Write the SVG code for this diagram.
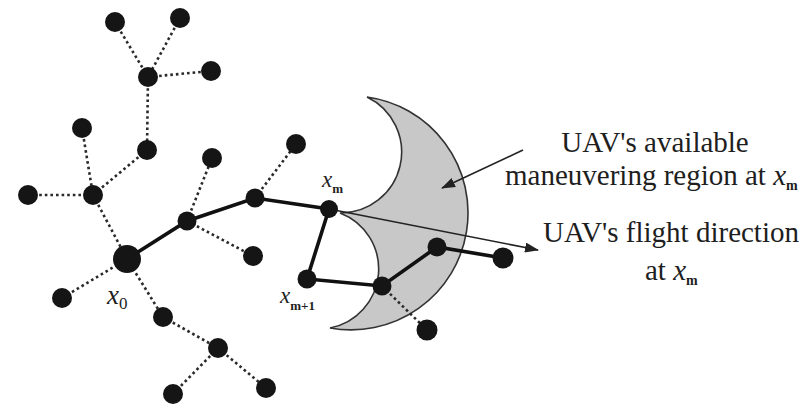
<svg xmlns="http://www.w3.org/2000/svg" width="811" height="409" viewBox="0 0 811 409">
<style>
.dot{stroke:#2a2a2a;stroke-width:2.6;stroke-dasharray:2.6 3;fill:none}
.path{stroke:#111;stroke-width:3.6;fill:none;stroke-linecap:round}
.thin{stroke:#222;stroke-width:1.6;fill:none}
.n{fill:#151515}
text{fill:#1e1e1e}
.it{font-style:italic}
</style>
<defs>
<marker id="ah" markerWidth="14" markerHeight="10" refX="13" refY="5" orient="auto" markerUnits="userSpaceOnUse">
<path d="M0,0 L14,5 L0,10 Z" fill="#222"/>
</marker>
</defs>
<g id="region">
<path d="M367,97 A117,117 0 1 1 330,328 A60,60 0 0 0 340,213 A61,61 0 0 0 367,97 Z" fill="#c8c8c8" stroke="#333" stroke-width="1.6"/>
</g>
<g id="connectors">
<line class="dot" x1="115" y1="22" x2="148" y2="77"/>
<line class="dot" x1="180" y1="18" x2="148" y2="77"/>
<line class="dot" x1="148" y1="77" x2="211" y2="71"/>
<line class="dot" x1="148" y1="77" x2="147" y2="150"/>
<line class="dot" x1="147" y1="150" x2="93" y2="195"/>
<line class="dot" x1="82" y1="128" x2="93" y2="195"/>
<line class="dot" x1="28" y1="195" x2="93" y2="195"/>
<line class="dot" x1="93" y1="195" x2="127" y2="259"/>
<line class="dot" x1="127" y1="259" x2="62" y2="298"/>
<line class="dot" x1="127" y1="259" x2="163" y2="317"/>
<line class="dot" x1="163" y1="317" x2="218" y2="348"/>
<line class="dot" x1="218" y1="348" x2="173" y2="394"/>
<line class="dot" x1="218" y1="348" x2="266" y2="388"/>
<line class="dot" x1="187" y1="221" x2="212" y2="158"/>
<line class="dot" x1="187" y1="221" x2="253" y2="256"/>
<line class="dot" x1="255" y1="198" x2="296" y2="144"/>
<line class="dot" x1="382" y1="286" x2="427" y2="330"/>
<polyline class="path" points="127,259 187,221 255,198 329,209 307,279 382,286 437,247 503,258"/>
<line class="thin" x1="329" y1="209" x2="538" y2="250" marker-end="url(#ah)"/>
<line class="thin" x1="523" y1="150" x2="442" y2="188" marker-end="url(#ah)"/>
</g>
<g id="nodes">
<circle id="n1" class="n" cx="115" cy="22" r="10"/>
<circle id="n2" class="n" cx="180" cy="18" r="10"/>
<circle id="n3" class="n" cx="148" cy="77" r="10"/>
<circle id="n4" class="n" cx="211" cy="71" r="10"/>
<circle id="n5" class="n" cx="82" cy="128" r="10"/>
<circle id="n6" class="n" cx="147" cy="150" r="10"/>
<circle id="n7" class="n" cx="28" cy="195" r="10"/>
<circle id="n8" class="n" cx="93" cy="195" r="10"/>
<circle id="n9" class="n" cx="212" cy="158" r="10"/>
<circle id="n10" class="n" cx="296" cy="144" r="10"/>
<circle id="x0" class="n" cx="127" cy="259" r="14"/>
<circle id="n12" class="n" cx="187" cy="221" r="9.5"/>
<circle id="n13" class="n" cx="255" cy="198" r="9.5"/>
<circle id="xm" class="n" cx="329" cy="209" r="9"/>
<circle id="n15" class="n" cx="253" cy="256" r="10"/>
<circle id="n16" class="n" cx="62" cy="298" r="10"/>
<circle id="n17" class="n" cx="163" cy="317" r="10"/>
<circle id="n18" class="n" cx="218" cy="348" r="10"/>
<circle id="n19" class="n" cx="173" cy="394" r="10"/>
<circle id="n20" class="n" cx="266" cy="388" r="10"/>
<circle id="xm1" class="n" cx="307" cy="279" r="9.5"/>
<circle id="n22" class="n" cx="382" cy="286" r="9.5"/>
<circle id="n23" class="n" cx="437" cy="247" r="9.5"/>
<circle id="n24" class="n" cx="503" cy="258" r="10.5"/>
<circle id="n25" class="n" cx="427" cy="330" r="10.5"/>
</g>
<g id="labels" font-family="'Liberation Serif', 'Times New Roman', serif">
<text x="107" y="304" font-size="27"><tspan class="it">x</tspan><tspan font-size="17" dy="5">0</tspan></text>
<text x="322" y="187" font-size="23"><tspan class="it">x</tspan><tspan font-size="13" font-weight="bold" dy="6">m</tspan></text>
<text x="280" y="303" font-size="23"><tspan class="it">x</tspan><tspan font-size="13" font-weight="bold" dy="7">m+1</tspan></text>
<text x="655" y="152" font-size="29" text-anchor="middle">UAV's available</text>
<text x="505" y="185" font-size="29">maneuvering region at <tspan class="it">x</tspan><tspan font-size="14" font-weight="bold" dy="5">m</tspan></text>
<text x="671" y="242" font-size="29" text-anchor="middle">UAV's flight direction</text>
<text x="645" y="280" font-size="29">at <tspan class="it">x</tspan><tspan font-size="14" font-weight="bold" dy="5">m</tspan></text>
</g>
</svg>
